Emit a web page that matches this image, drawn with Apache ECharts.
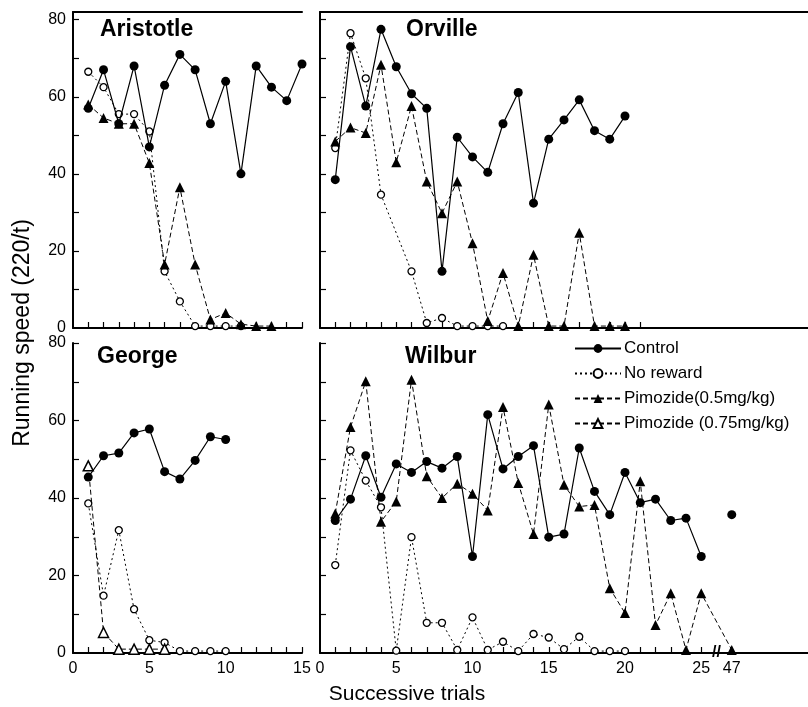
<!DOCTYPE html>
<html>
<head>
<meta charset="UTF-8">
<title>Running speed</title>
<style>
html, body { margin: 0; padding: 0; background: #fff; }
#main { width: 808px; height: 707px; }
</style>
</head>
<body>
<div id="main"></div>
<script src="https://cdn.jsdelivr.net/npm/echarts@6/dist/echarts.min.js"></script>
<script>
// Aristotle
var aristotleTrials = [1, 2, 3, 4, 5, 6, 7, 8, 9, 10, 11, 12, 13, 14, 15];
var aristotleControl = [57, 67, 53, 68, 47, 63, 71, 67, 53, 64, 40, 68, 62.5, 59, 68.5];
var aristotleNoReward = [66.5, 62.5, 55.5, 55.5, 51, 14.7, 6.9, 0.5, 0.5, 0.5, 0.5];
var aristotlePimozide = [58, 54.5, 53, 53, 42.8, 16.5, 36.5, 16.5, 2.2, 3.9, 1, 0.5, 0.5];

// Orville
var orvilleTrials = [1, 2, 3, 4, 5, 6, 7, 8, 9, 10, 11, 12, 13, 14, 15, 16, 17, 18, 19, 20];
var orvilleControl = [38.5, 73, 57.6, 77.5, 67.8, 60.8, 57, 14.7, 49.5, 44.4, 40.4, 53, 61.1, 32.4, 49, 54, 59.2, 51.2, 49, 55];
var orvilleNoReward = [46.7, 76.5, 64.8, 34.6, null, 14.7, 1.3, 2.6, 0.5, 0.5, 0.5, 0.5];
var orvillePimozide = [48.4, 52, 50.6, 68.3, 43, 57.6, 38, 29.8, 38, 22, 1.8, 14.3, 0.5, 19, 0.5, 0.5, 24.7, 0.5, 0.5, 0.5];

// George
var georgeTrials = [1, 2, 3, 4, 5, 6, 7, 8, 9, 10];
var georgeControl = [45.4, 50.9, 51.6, 56.8, 57.8, 46.8, 44.9, 49.7, 55.8, 55.1];
var georgeNoReward = [38.6, 14.8, 31.7, 11.3, 3.3, 2.7, 0.5, 0.5, 0.5, 0.5];
var georgePimozideHigh = [48.3, 5.3, 1, 1, 1, 1];

// Wilbur (trial 47 drawn just after the axis break)
var wilburTrials = [1, 2, 3, 4, 5, 6, 7, 8, 9, 10, 11, 12, 13, 14, 15, 16, 17, 18, 19, 20, 21, 22, 23, 24, 25, 47];
var wilburControl = [34.2, 39.7, 50.9, 40.2, 48.8, 46.6, 49.4, 47.7, 50.7, 24.9, 61.5, 47.5, 50.7, 53.5, 29.9, 30.7, 52.9, 41.7, 35.7, 46.6, 38.8, 39.7, 34.2, 34.8, 24.9, 35.7];
var wilburNoReward = [22.7, 52.3, 44.5, 37.6, 0.6, 29.9, 7.8, 7.8, 0.8, 9.2, 0.8, 2.9, 0.5, 4.9, 4, 1, 4.2, 0.5, 0.5, 0.5];
var wilburPimozide = [36, 58.3, 70.1, 33.9, 39.1, 70.5, 45.6, 40, 43.7, 41.1, 36.8, 63.5, 43.9, 30.7, 64.1, 43.4, 37.8, 38.2, 16.7, 10.3, 44.3, 7.2, 15.4, 0.8, 15.4, 0.8];

// axes
var leftTicks = [1, 2, 3, 4, 5, 6, 7, 8, 9, 10, 11, 12, 13, 14, 15];
var leftLabels = [0, 5, 10, 15];
var orvilleTicks = [1, 2, 3, 4, 5, 6, 7, 8, 9, 10, 11, 12, 13, 14, 15, 16, 17, 18, 19, 20, 21];
var wilburTicks = [1, 2, 3, 4, 5, 6, 7, 8, 9, 10, 11, 12, 13, 14, 15, 16, 17, 18, 19, 20, 21, 22, 23, 24, 25];
var wilburLabels = [0, 5, 10, 15, 20, 25, 27];
var wilburLastTrial = 25, wilburBreakPos = 27;
var yTicks = [10, 20, 30, 40, 50, 60, 70, 80];
var yLabels = [0, 20, 40, 60, 80];

var names = ['Control', 'No reward', 'Pimozide(0.5mg/kg)', 'Pimozide (0.75mg/kg)'];

function wilburPos(t) {
	return t > wilburLastTrial ? wilburBreakPos : t;
}

function pairs(trials, values, posFn, gapAfterBreak) {
	var out = [];
	for (var i = 0; i < values.length; i++) {
		var x = posFn ? posFn(trials[i]) : trials[i];
		if (gapAfterBreak && trials[i] > wilburLastTrial) {
			out.push([wilburLastTrial + 1, null]); // axis break, line stops
		}
		out.push([x, values[i]]);
	}
	return out;
}

var styles = {
	'Control': {
		symbol: 'circle', symbolSize: 9,
		itemStyle: { color: '#000' },
		lineStyle: { color: '#000', width: 1.2, type: 'solid' }
	},
	'No reward': {
		symbol: 'circle', symbolSize: 7,
		itemStyle: { color: '#fff', borderColor: '#000', borderWidth: 1.3 },
		lineStyle: { color: '#000', width: 1, type: [2, 3] }
	},
	'Pimozide(0.5mg/kg)': {
		symbol: 'triangle', symbolSize: 10,
		itemStyle: { color: '#000' },
		lineStyle: { color: '#000', width: 1, type: [5, 3] }
	},
	'Pimozide (0.75mg/kg)': {
		symbol: 'triangle', symbolSize: 10,
		itemStyle: { color: '#fff', borderColor: '#000', borderWidth: 1.5 },
		lineStyle: { color: '#000', width: 1, type: [5, 3] }
	}
};

function makeSeries(name, grid, data, connect) {
	var s = styles[name];
	return {
		name: name,
		type: 'line',
		xAxisIndex: grid,
		yAxisIndex: grid,
		data: data,
		symbol: s.symbol,
		symbolSize: s.symbolSize,
		showAllSymbol: true,
		connectNulls: connect,
		itemStyle: s.itemStyle,
		lineStyle: s.lineStyle,
		z: name === 'Control' ? 5 : 3,
		emphasis: { disabled: true }
	};
}

function xAxisFor(grid, max, ticks, labels, showLabels, fmt) {
	return {
		gridIndex: grid, type: 'value', min: 0, max: max,
		axisLine: { lineStyle: { color: '#000', width: 2 } },
		axisTick: { show: true, inside: true, length: 6, customValues: ticks, lineStyle: { color: '#000', width: 1.2 } },
		axisLabel: { show: showLabels, customValues: labels, color: '#000', fontSize: 16, margin: 8, formatter: fmt },
		splitLine: { show: false }
	};
}

function topBorder(grid, max) {
	return {
		gridIndex: grid, type: 'value', min: 0, max: max, position: 'top',
		axisLine: { lineStyle: { color: '#000', width: 2 } },
		axisTick: { show: false }, axisLabel: { show: false }, splitLine: { show: false }
	};
}

function yAxisFor(grid, max, showLabels) {
	return {
		gridIndex: grid, type: 'value', min: 0, max: max,
		axisLine: { lineStyle: { color: '#000', width: 2 } },
		axisTick: { show: true, inside: true, length: 6, customValues: yTicks, lineStyle: { color: '#000', width: 1.2 } },
		axisLabel: { show: showLabels, customValues: yLabels, color: '#000', fontSize: 16, margin: 7 },
		splitLine: { show: false }
	};
}

var titleStyle = { fontSize: 23, fontWeight: 'bold', color: '#000', fontFamily: 'Liberation Sans' };

var option = {
	animation: false,
	backgroundColor: '#fff',
	textStyle: { fontFamily: 'Liberation Sans' },
	title: [
		{ text: 'Aristotle', left: 100, top: 18, padding: 0, textStyle: titleStyle },
		{ text: 'Orville', left: 406, top: 18, padding: 0, textStyle: titleStyle },
		{ text: 'George', left: 97, top: 345, padding: 0, textStyle: titleStyle },
		{ text: 'Wilbur', left: 405, top: 345, padding: 0, textStyle: titleStyle }
	],
	legend: {
		data: names,
		orient: 'vertical',
		left: 574,
		top: 340,
		itemWidth: 46,
		itemHeight: 11,
		itemGap: 8,
		padding: 0,
		selectedMode: false,
		textStyle: { color: '#000', fontSize: 17, padding: [0, 0, 0, -2] }
	},
	grid: [
		{ left: 73, top: 12, width: 229, height: 316 },
		{ left: 320, top: 12, right: 0, height: 316 },
		{ left: 73, top: 343, width: 229, height: 310 },
		{ left: 320, top: 343, right: 0, height: 310 }
	],
	xAxis: [
		xAxisFor(0, 15, leftTicks, leftLabels, false),
		xAxisFor(1, 32, orvilleTicks, [], false),
		xAxisFor(2, 15, leftTicks, leftLabels, true),
		xAxisFor(3, 32, wilburTicks, wilburLabels, true, function (v) {
			return v === wilburBreakPos ? '47' : String(v);
		}),
		topBorder(0, 15),
		topBorder(1, 32)
	],
	yAxis: [
		yAxisFor(0, 82, true),
		yAxisFor(1, 82, false),
		yAxisFor(2, 80, true),
		yAxisFor(3, 80, false)
	],
	graphic: [
		{
			type: 'text', id: 'yname', x: 23, y: 333, rotation: Math.PI / 2,
			style: { text: 'Running speed (220/t)', fill: '#000', font: '23px Liberation Sans', align: 'center', verticalAlign: 'middle' }
		},
		{
			type: 'text', id: 'xname', x: 407, y: 694,
			style: { text: 'Successive trials', fill: '#000', font: '21px Liberation Sans', align: 'center', verticalAlign: 'middle' }
		}
	],
	series: [
		makeSeries('No reward', 0, pairs(aristotleTrials, aristotleNoReward), true),
		makeSeries('Pimozide(0.5mg/kg)', 0, pairs(aristotleTrials, aristotlePimozide), true),
		makeSeries('Control', 0, pairs(aristotleTrials, aristotleControl), true),

		makeSeries('No reward', 1, pairs(orvilleTrials, orvilleNoReward), true),
		makeSeries('Pimozide(0.5mg/kg)', 1, pairs(orvilleTrials, orvillePimozide), true),
		makeSeries('Control', 1, pairs(orvilleTrials, orvilleControl), true),

		makeSeries('No reward', 2, pairs(georgeTrials, georgeNoReward), true),
		makeSeries('Pimozide (0.75mg/kg)', 2, pairs(georgeTrials, georgePimozideHigh), true),
		makeSeries('Control', 2, pairs(georgeTrials, georgeControl), true),

		makeSeries('No reward', 3, pairs(wilburTrials, wilburNoReward, wilburPos), true),
		makeSeries('Pimozide(0.5mg/kg)', 3, pairs(wilburTrials, wilburPimozide, wilburPos), true),
		makeSeries('Control', 3, pairs(wilburTrials, wilburControl, wilburPos, true), false)
	]
};

var chart = echarts.init(document.getElementById('main'));
chart.setOption(option);

// break mark on Wilbur's trial axis
var brk = chart.convertToPixel({ gridIndex: 3 }, [wilburLastTrial + 1, 0]);
chart.setOption({
	graphic: [{
		type: 'text', id: 'break', x: brk[0], y: brk[1],
		style: { text: '//', fill: '#000', font: 'bold 16px Liberation Sans', align: 'center', verticalAlign: 'middle', backgroundColor: '#fff' }
	}]
});
</script>
</body>
</html>
